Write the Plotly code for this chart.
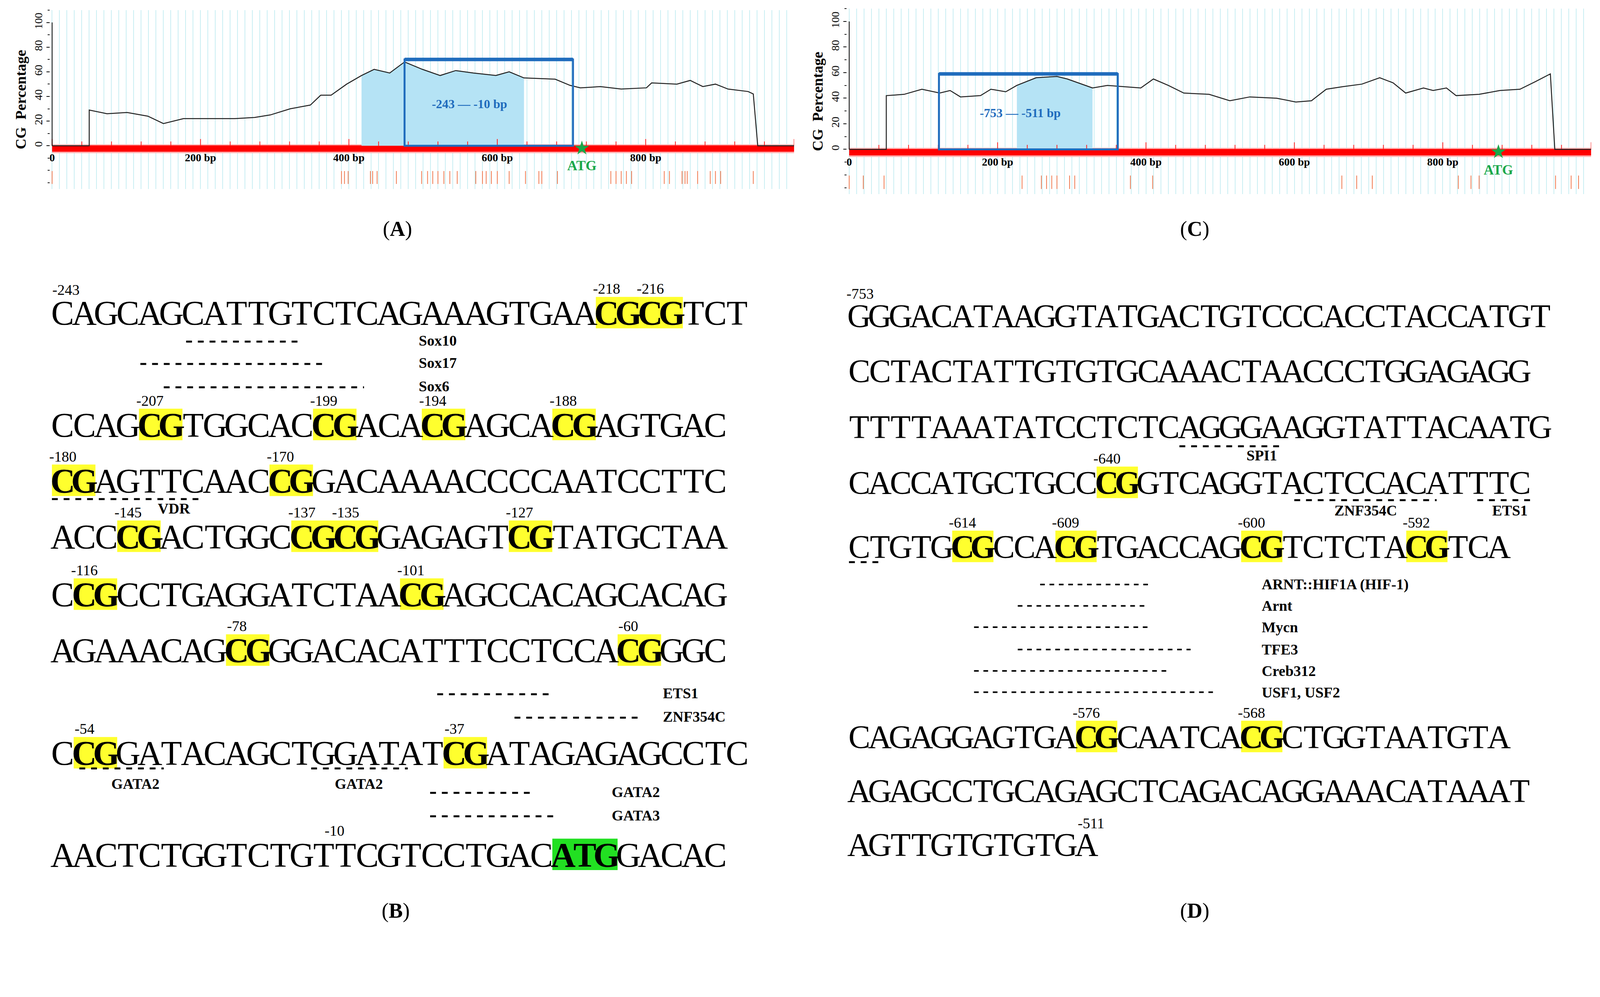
import plotly.graph_objects as go

# the page viewport turned out ~6.6% smaller than 4350x2553, so size the figure to it
W, H = 4081, 2395
F = W / 4350          # font scale
S = W / 1568          # reference measured at 1568 px wide

# ---- CG percentage curves (bp, %) ----
a_bp = [0, 50, 50, 74, 101, 129, 150, 177, 211, 246, 273, 294, 321, 348, 362, 376, 397, 417, 434, 455,
        475, 499, 523, 544, 568, 585, 598, 616, 636, 678, 698, 712, 739, 767, 801, 808, 842, 860, 877,
        894, 911, 938, 945, 951, 1000]
a_gc = [0, 0, 29, 26, 27, 24, 18, 22, 22, 22, 23, 25, 30, 33, 41, 41, 50, 57, 62, 59,
        68, 62, 57, 61, 59, 58, 57, 60, 55, 54, 49, 47, 48, 46, 47, 51, 50, 53, 48,
        50, 46, 44, 42, 0, 0]
c_bp = [0, 50, 50, 74, 98, 122, 136, 150, 177, 191, 211, 226, 252, 280, 294, 328, 348, 369, 393, 410,
        430, 451, 485, 513, 540, 576, 602, 623, 643, 665, 691, 715, 733, 750, 774, 787, 805, 818, 849,
        877, 904, 925, 945, 951, 1000]
c_gc = [0, 0, 42, 43, 47, 44, 46, 41, 42, 47, 45, 50, 56, 57, 55, 48, 50, 49, 48, 55,
        50, 44, 43, 38, 41, 40, 37, 38, 47, 49, 51, 56, 52, 44, 48, 46, 48, 42, 43,
        46, 47, 53, 59, 0, 0]

a_cpg = [0, 390, 394, 399, 429, 432, 438, 464, 498, 506, 513, 520, 528, 536, 546, 571, 580, 585, 592, 600,
         616, 638, 656, 660, 681, 753, 760, 767, 774, 781, 825, 832, 849, 853, 856, 870, 887, 894, 901, 945]
c_cpg = [0, 19, 47, 233, 259, 266, 273, 280, 297, 304, 379, 409, 664, 684, 705, 821, 838, 849, 952, 973, 983]

a_box = [475, 702, 70]
a_shade = [400, 650]
a_atg = 714
a_label = "-243 — -10 bp"
c_box = [121, 362, 59]
c_shade = [219, 340]
c_atg = 875
c_label = "-753 — -511 bp"

x_tickvals = [0, 200, 400, 600, 800]
x_ticktext = ["0", "200 bp", "400 bp", "600 bp", "800 bp"]

# ---- sequences ----
b_lines = ["CAGCAGCATTGTCTCAGAAAGTGAACGCGTCT",
           "CCAGCGTGGCACCGACACGAGCACGAGTGAC",
           "CGAGTTCAACCGGACAAAACCCCAATCCTTC",
           "ACCCGACTGGCCGCGGAGAGTCGTATGCTAA",
           "CCGCCTGAGGATCTAACGAGCCACAGCACAG",
           "AGAAACAGCGGGACACATTTCCTCCACGGGC",
           "CCGGATACAGCTGGATATCGATAGAGAGCCTC",
           "AACTCTGGTCTGTTCGTCCTGACATGGACAC"]
b_cpg_line = [0, 0, 1, 1, 1, 1, 2, 2, 3, 3, 3, 3, 4, 4, 5, 5, 6, 6]
b_cpg_idx = [25, 27, 4, 12, 17, 23, 0, 10, 3, 11, 13, 21, 1, 16, 8, 26, 1, 18]
b_cpg_text = ["-218", "-216", "-207", "-199", "-194", "-188", "-180", "-170", "-145", "-137", "-135",
              "-127", "-116", "-101", "-78", "-60", "-54", "-37"]

d_lines = ["GGGACATAAGGTATGACTGTCCCACCTACCATGT",
           "CCTACTATTGTGTGCAAACTAACCCTGGAGAGG",
           "TTTTAAATATCCTCTCAGGGAAGGTATTACAATG",
           "CACCATGCTGCCCGGTCAGGTACTCCACATTTC",
           "CTGTGCGCCACGTGACCAGCGTCTCTACGTCA",
           "CAGAGGAGTGACGCAATCACGCTGGTAATGTA",
           "AGAGCCTGCAGAGCTCAGACAGGAAACATAAAT",
           "AGTTGTGTGTGA"]
d_cpg_line = [3, 4, 4, 4, 4, 5, 5]
d_cpg_idx = [12, 5, 10, 19, 27, 11, 19]
d_cpg_text = ["-640", "-614", "-609", "-600", "-592", "-576", "-568"]

# ---- layout (reference px at 1568 wide) ----
b_x0, b_pitch, b_rows = 48, 21.4, [305, 415, 470, 525, 582, 637, 738, 838]
d_x0, d_pitch, d_rows = 832, 20.3, [308, 362, 417, 472, 535, 722, 775, 828]

serif = "Liberation Serif"
blue = "#1f6cbd"

fig = go.Figure()


def fs(v):
    return round(v * F)


def px(x):
    return x / 1568


def py(y):
    return 1 - y * S / H


def cg_panel(n, bp, gc, cpg, box, shade, atg, label, x0d, y0d, y100d):
    # x0d: display x of 0 bp, y0d/y100d: display y of 0 % and 100 %
    xa, ya = ("x", "y") if n == 1 else ("x2", "y2")
    key = "" if n == 1 else "2"
    ppu = (y0d - y100d) / 100
    top, bot = y0d - 110 * ppu, y0d + 35 * ppu
    fig.update_layout(**{
        "xaxis" + key: dict(domain=[px(x0d), px(x0d + 732)], range=[-3, 1000], anchor=ya, showgrid=True,
                            dtick=10, gridcolor="#c9eef3", gridwidth=2, showticklabels=False,
                            zeroline=False, showline=False, ticks=""),
        "yaxis" + key: dict(domain=[1 - bot / 918, 1 - top / 918], range=[-35, 110], anchor=xa, showgrid=False,
                            zeroline=False, tickvals=[0, 20, 40, 60, 80, 100], ticks="outside", ticklen=8,
                            tickwidth=2, tickcolor="black", tickangle=-90,
                            tickfont=dict(family=serif, size=fs(30), color="black"),
                            minor=dict(dtick=10, ticks="outside", ticklen=5, tickwidth=2, tickcolor="black"),
                            title=dict(text="<b>CG  Percentage</b>",
                                       font=dict(family=serif, size=fs(40), color="black"), standoff=4)),
    })
    sx = [x for x in bp if shade[0] <= x <= shade[1]]
    sy = [g for x, g in zip(bp, gc) if shade[0] <= x <= shade[1]]
    fig.add_trace(go.Scatter(x=sx, y=sy, fill="tozeroy", fillcolor="#b5e3f5", line=dict(width=0),
                             mode="lines", xaxis=xa, yaxis=ya, hoverinfo="skip"))
    fig.add_shape(type="rect", xref=xa, yref=ya, x0=0, x1=1000, y0=1.2, y1=-6, fillcolor="#ffb3b3",
                  line_width=0, layer="between")
    fig.add_shape(type="rect", xref=xa, yref=ya, x0=0, x1=1000, y0=0.3, y1=-4.8, fillcolor="#ff0000",
                  line_width=0, layer="between")
    tx, ty = [], []
    for t in range(0, 1001, 40):
        tx += [t, t, None]
        ty += [0, 5.5 if t % 200 == 0 else 3.5, None]
    fig.add_trace(go.Scatter(x=tx, y=ty, mode="lines", line=dict(color="#ff2020", width=2),
                             xaxis=xa, yaxis=ya, hoverinfo="skip"))
    fig.add_trace(go.Scatter(x=[0, 0], y=[0, 100], mode="lines", line=dict(color="black", width=2),
                             xaxis=xa, yaxis=ya, hoverinfo="skip"))
    fig.add_trace(go.Scatter(x=bp, y=gc, mode="lines", line=dict(color="#222222", width=2.5),
                             xaxis=xa, yaxis=ya))
    fig.add_shape(type="rect", xref=xa, yref=ya, x0=box[0], x1=box[1], y0=0, y1=box[2],
                  line=dict(color=blue, width=5), layer="above")
    fig.add_shape(type="line", xref=xa, yref=ya, x0=box[0], x1=box[1], y0=box[2], y1=box[2],
                  line=dict(color=blue, width=9), layer="above")
    fig.add_trace(go.Scatter(x=[(box[0] + box[1]) / 2 + (shade[1] - box[1]) / 2], y=[box[2] * 0.47],
                             mode="text", text=[f"<b>{label}</b>"],
                             textfont=dict(family=serif, size=fs(34), color=blue), xaxis=xa, yaxis=ya))
    cx, cy = [], []
    for c in cpg:
        cx += [c, c, None]
        cy += [-20.5, -31, None]
    fig.add_trace(go.Scatter(x=cx, y=cy, mode="lines", line=dict(color="#f07a50", width=2),
                             xaxis=xa, yaxis=ya, hoverinfo="skip"))
    fig.add_trace(go.Scatter(x=x_tickvals, y=[-10.5] * len(x_tickvals), mode="text",
                             text=[f"<b>{t}</b>" for t in x_ticktext],
                             textfont=dict(family=serif, size=fs(30), color="black"), xaxis=xa, yaxis=ya))
    fig.add_trace(go.Scatter(x=[atg], y=[-2], mode="markers",
                             marker=dict(symbol="star", size=fs(30), color="#1aa84a"), xaxis=xa, yaxis=ya))
    fig.add_trace(go.Scatter(x=[atg], y=[-17], mode="text", text=["<b>ATG</b>"],
                             textfont=dict(family=serif, size=fs(38), color="#1aa84a"), xaxis=xa, yaxis=ya))


cg_panel(1, a_bp, a_gc, a_cpg, a_box, a_shade, a_atg, a_label, 46, 140, 19)
cg_panel(2, c_bp, c_gc, c_cpg, c_box, c_shade, c_atg, c_label, 830, 143.5, 18)


def txt(x, y, s, size=40, bold=False, anchor="center"):
    fig.add_annotation(x=px(x), y=py(y), xref="paper", yref="paper", text=f"<b>{s}</b>" if bold else s,
                       showarrow=False, xanchor=anchor, yanchor="middle",
                       font=dict(family=serif, size=fs(size), color="black"))


def box(x1, x2, y1, y2, color):
    fig.add_shape(type="rect", xref="paper", yref="paper", x0=px(x1), x1=px(x2), y0=py(y1), y1=py(y2),
                  fillcolor=color, line_width=0, layer="below")


def seq_panel(lines, rows, x0, pitch, cl, ci, ct, size, green=None):
    hl = {}
    for l, i in zip(cl, ci):
        hl.setdefault(l, set()).update([i, i + 1])
        box(x0 + i * pitch, x0 + (i + 2) * pitch, rows[l] - 16, rows[l] + 15, "#ffff2e")
    if green:
        l, i, n = green
        hl.setdefault(l, set()).update(range(i, i + n))
        box(x0 + i * pitch, x0 + (i + n) * pitch, rows[l] - 16, rows[l] + 15, "#22e022")
    for r, line in enumerate(lines):
        for i, ch in enumerate(line):
            txt(x0 + (i + 0.5) * pitch, rows[r], ch, size, i in hl.get(r, ()))
    for l, i, t in zip(cl, ci, ct):
        txt(x0 + (i + 0.5) * pitch, rows[l] - 24, t, 40)


seq_panel(b_lines, b_rows, b_x0, b_pitch, b_cpg_line, b_cpg_idx, b_cpg_text, 94, green=(7, 23, 3))
seq_panel(d_lines, d_rows, d_x0, d_pitch, d_cpg_line, d_cpg_idx, d_cpg_text, 90)


def dash(x1, x2, y, width=5, style="dash"):
    fig.add_shape(type="line", xref="paper", yref="paper", x0=px(x1), x1=px(x2), y0=py(y), y1=py(y),
                  line=dict(color="black", width=width, dash=style))


txt(62, 282, "-243")
txt(1070, 807, "-511")
txt(326, 814, "-10")
txt(843, 286, "-753")

# panel B binding sites
for x1, x2, y, name, lx in [(180, 293, 333, "Sox10", 408), (135, 318, 355, "Sox17", 408),
                            (158, 355, 378, "Sox6", 408), (427, 540, 680, "ETS1", 648),
                            (503, 625, 703, "ZNF354C", 648), (420, 520, 777, "GATA2", 598),
                            (420, 545, 800, "GATA3", 598)]:
    dash(x1, x2, y)
    txt(lx, y - 1, name, 40, True, "left")
dash(48, 195, 488)
txt(168, 497, "VDR", 40, True)
dash(75, 158, 753)
dash(303, 398, 753)
txt(130, 768, "GATA2", 40, True)
txt(350, 768, "GATA2", 40, True)

# panel D binding sites
dash(1157, 1255, 436)
txt(1238, 445, "SPI1", 40, True)
dash(1270, 1410, 489)
dash(1450, 1502, 489)
dash(832, 862, 550)
txt(1340, 499, "ZNF354C", 40, True)
txt(1482, 499, "ETS1", 40, True)
for x1, x2, y, name in [(1020, 1127, 572, "ARNT::HIF1A (HIF-1)"), (998, 1127, 593, "Arnt"),
                        (955, 1127, 614, "Mycn"), (998, 1168, 636, "TFE3"), (955, 1148, 657, "Creb312"),
                        (955, 1190, 678, "USF1, USF2")]:
    dash(x1, x2, y, 4, "dash")
    txt(1237, y, name, 40, True, "left")

for x, y, l in [(388, 222, "A"), (1172, 222, "C"), (386, 893, "B"), (1172, 893, "D")]:
    txt(x, y, f"(<b>{l}</b>)", 58)

fig.update_layout(width=W, height=H, margin=dict(l=0, r=0, t=0, b=0), showlegend=False,
                  plot_bgcolor="rgba(0,0,0,0)", paper_bgcolor="white")
fig.write_html("out.html")
